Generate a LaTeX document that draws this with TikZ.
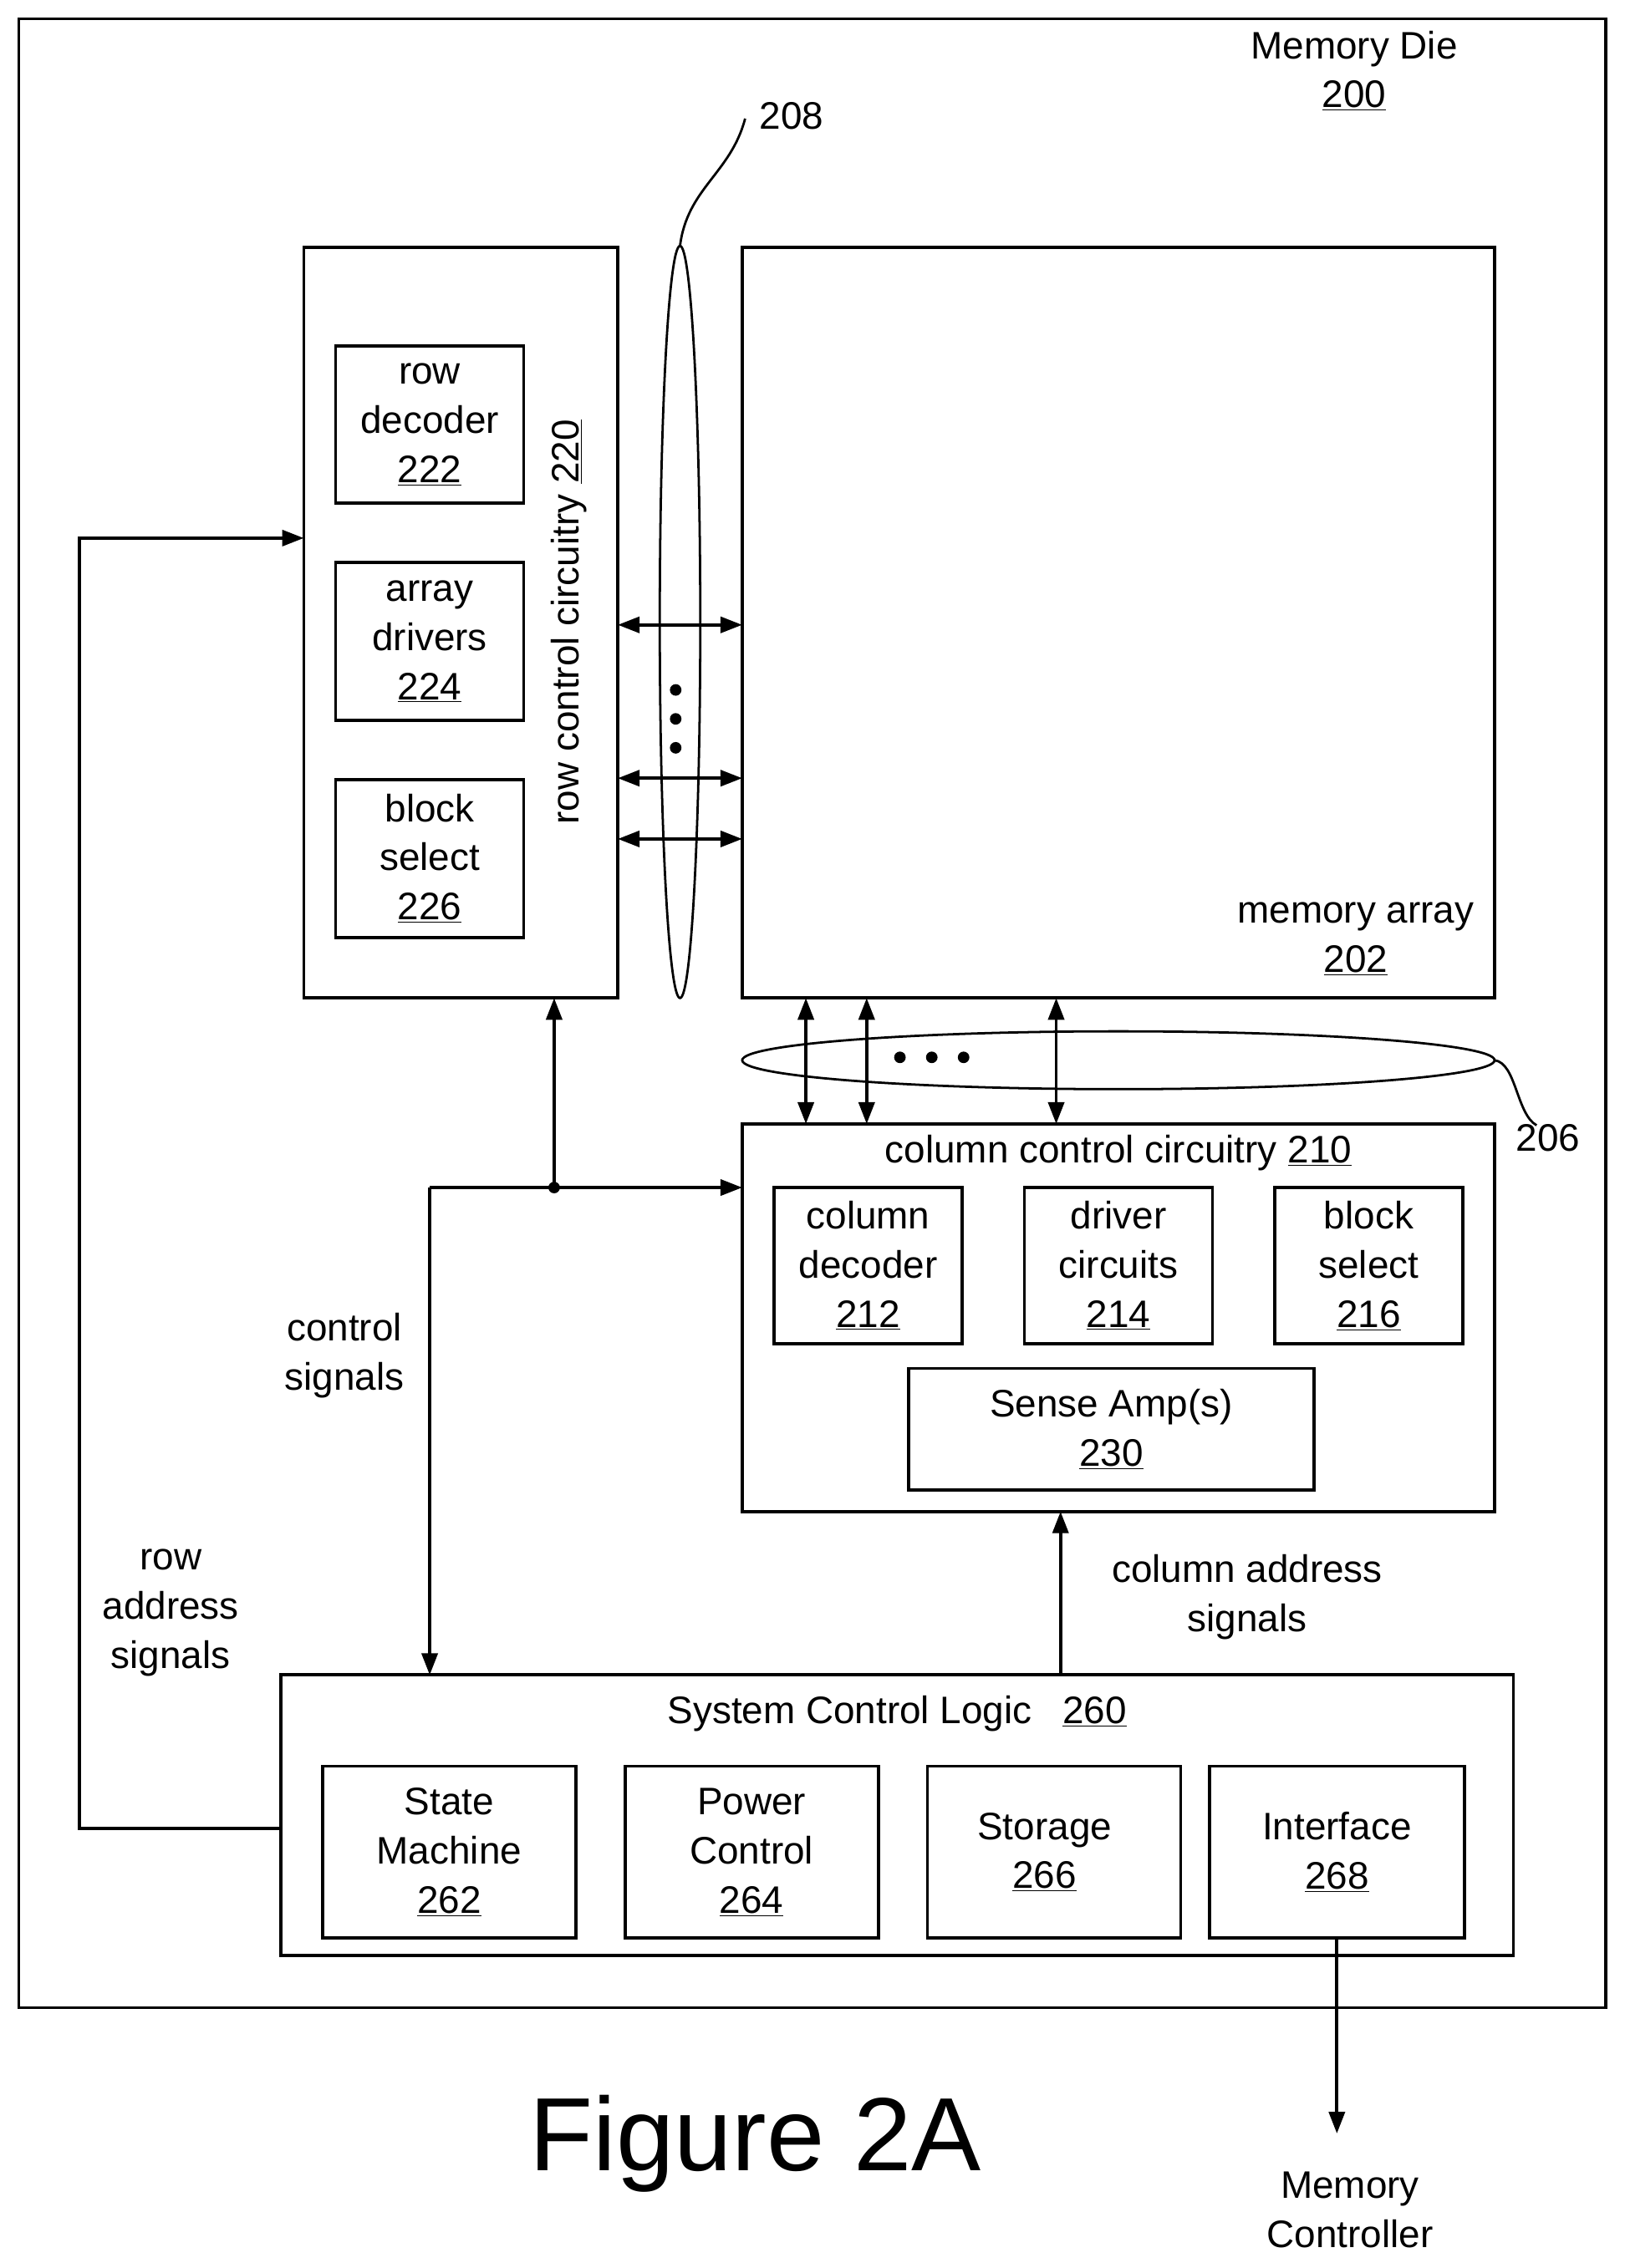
\documentclass[tikz,border=0pt]{standalone}
\usepackage{fontspec}
\setmainfont{Liberation Sans}
\usetikzlibrary{arrows.meta}
\begin{document}
\begin{tikzpicture}[x=1pt,y=-1pt,
 box/.style={draw,line width=2.2pt},
 lbl/.style={font=\fontsize{26.5}{34}\selectfont,align=center,inner sep=0},
 arr/.style={line width=2.2pt,-{Triangle[length=15pt,width=11pt]}},
 darr/.style={line width=2.2pt,{Triangle[length=15pt,width=11pt]}-{Triangle[length=15pt,width=11pt]}},
 dot/.style={circle,fill,inner sep=0,minimum size=8pt}]
\useasboundingbox (0,0) rectangle (1123,1568);
\draw[box] (13,13) rectangle (1110,1388);
\node[lbl] (die) at (936,49) {Memory Die\\\underline{200}};
% row control
\draw[box] (210,171) rectangle (427,690);
\coordinate (rowS) at (383,690);
\coordinate (rowW) at (210,372);
\node[box,minimum width=130pt,minimum height=109pt,lbl] (rd) at (297,293.5) {row\\decoder\\\underline{222}};
\node[box,minimum width=130pt,minimum height=109pt,lbl] (ad) at (297,443.5) {array\\drivers\\\underline{224}};
\node[box,minimum width=130pt,minimum height=109pt,lbl] (bs) at (297,593.5) {block\\select\\\underline{226}};
\node[lbl,rotate=90] (rcl) at (393,430) {row control circuitry \underline{220}};
% memory array
\draw[box] (513,171) rectangle (1033,690);
\node[lbl] (ma) at (937,649) {memory array\\\underline{202}};
% ellipse 208
\draw[line width=1.6pt] (470,430) ellipse (14 and 260);
\draw[line width=1.6pt] (470,170) .. controls (475,130) and (505,120) .. (515,82);
\node[lbl] (l208) at (547,80) {208};
\foreach \y/\n in {432/a,538/b,580/c}{
 \coordinate (L\n) at (427,\y); \coordinate (R\n) at (513,\y);
 \draw[darr] (L\n) -- (R\n);}
\foreach \y in {477,497,517}{\node[dot] at (467,\y) {};}
% ellipse 206
\draw[line width=1.6pt] (773,733) ellipse (260 and 20);
\draw[line width=1.6pt] (1033,733) .. controls (1048,735) and (1048,770) .. (1062,778);
\node[lbl] (l206) at (1070,787) {206};
\foreach \x/\n in {557/a,599/b,730/c}{
 \coordinate (T\n) at (\x,690); \coordinate (B\n) at (\x,777);
 \draw[darr] (T\n) -- (B\n);}
\foreach \x in {622,644,666}{\node[dot] at (\x,731) {};}
% column control
\draw[box] (513,777) rectangle (1033,1045);
\coordinate (colW) at (513,821);
\coordinate (colS) at (733,1045);
\node[lbl] (cct) at (773,797) {column control circuitry \underline{210}};
\node[box,minimum width=130pt,minimum height=108pt,lbl] (cd) at (600,875) {column\\decoder\\\underline{212}};
\node[box,minimum width=130pt,minimum height=108pt,lbl] (dc) at (773,875) {driver\\circuits\\\underline{214}};
\node[box,minimum width=130pt,minimum height=108pt,lbl] (bs2) at (946,875) {block\\select\\\underline{216}};
\node[box,minimum width=280pt,minimum height=84pt,lbl] (sa) at (768,988) {Sense Amp(s)\\\underline{230}};
% system control logic
\draw[box] (194,1158) rectangle (1046,1352);
\coordinate (sysN1) at (733,1158);
\coordinate (sysN2) at (297,1158);
\coordinate (sysW) at (194,1264);
\node[lbl] (scl) at (620,1185) {System Control Logic\hspace{0.8em}\underline{260}};
\node[box,minimum width=175pt,minimum height=119pt,lbl] (sm) at (310.5,1280.5) {State\\Machine\\\underline{262}};
\node[box,minimum width=175pt,minimum height=119pt,lbl] (pc) at (519.5,1280.5) {Power\\Control\\\underline{264}};
\node[box,minimum width=175pt,minimum height=119pt] (st) at (728.5,1280.5) {};
\node[lbl] (stl) at (722,1280.5) {Storage\\\underline{266}};
\node[box,minimum width=176pt,minimum height=119pt,lbl] (if) at (924,1280.5) {Interface\\\underline{268}};
% connectors
\draw[arr] (sysN1) -- (colS);
\node[lbl] (cas) at (862,1104) {column address\\signals};
\coordinate (J) at (383,821);
\node[dot] at (J) {};
\draw[arr] (J) -- (rowS);
\coordinate (K) at (297,821);
\draw[arr] (K) -- (colW);
\draw[arr] (K) -- (sysN2);
\node[lbl] (cs) at (238,937) {control\\signals};
\draw[arr] (sysW) -- (55,1264) -- (55,372) -- (rowW);
\node[lbl] (ras) at (118,1115) {row\\address\\signals};
\coordinate (mcT) at (924,1475);
\draw[arr] (if.south) -- (mcT);
\node[lbl] (mc) at (933,1528) {Memory\\Controller};
\node[font=\fontsize{72}{80}\selectfont,inner sep=0] (fig) at (522,1482) {Figure 2A};
\end{tikzpicture}
\end{document}
